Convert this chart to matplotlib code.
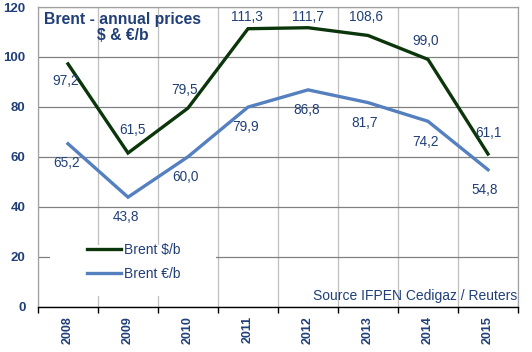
import matplotlib
matplotlib.use("Agg")
import matplotlib.pyplot as plt
from matplotlib.patches import Rectangle

years = ["2008", "2009", "2010", "2011", "2012", "2013", "2014", "2015"]
brent_usd = [97.2, 61.5, 79.5, 111.3, 111.7, 108.6, 99.0, 61.1]
brent_eur = [65.2, 43.8, 60.0, 79.9, 86.8, 81.7, 74.2, 54.8]
usd_labels = ["97,2", "61,5", "79,5", "111,3", "111,7", "108,6", "99,0", "61,1"]
eur_labels = ["65,2", "43,8", "60,0", "79,9", "86,8", "81,7", "74,2", "54,8"]

# label offsets in pixels (dx, dy)
usd_off = [(-2, -17), (4, 23), (-3, 18), (-1, 12), (0, 11), (-2, 18), (-2, 18), (0, 21)]
eur_off = [(-1, -19), (-2, -20), (-3, -20), (-2, -20), (-1, -20), (-3, -20), (-3, -21), (-3, -20)]

TXT = "#203F78"
plt.rcParams['font.family'] = ['Liberation Sans', 'DejaVu Sans']

fig = plt.figure(figsize=(5.32, 3.52), dpi=100)
ax = fig.add_axes([38/532, 1-306.5/352, 480/532, 299.5/352])

x = list(range(len(years)))
ax.plot(x, brent_usd, color="#0B360B", lw=2.4, label="Brent $/b", zorder=4, solid_joinstyle='miter')
ax.plot(x, brent_eur, color="#5580C0", lw=2.4, label="Brent €/b", zorder=4, solid_joinstyle='miter')

for xi, v, s, (dx, dy) in zip(x, brent_usd, usd_labels, usd_off):
    ax.annotate(s, (xi, v), xytext=(dx, dy), textcoords='offset pixels',
                ha='center', va='center', fontsize=9.8, color=TXT, zorder=6)
for xi, v, s, (dx, dy) in zip(x, brent_eur, eur_labels, eur_off):
    ax.annotate(s, (xi, v), xytext=(dx, dy), textcoords='offset pixels',
                ha='center', va='center', fontsize=9.8, color=TXT, zorder=6)

ax.set_xlim(-0.5, len(years) - 0.5)
ax.set_ylim(0, 120)
ax.set_yticks(range(0, 121, 20))
ax.set_xticks(x)
ax.set_xticklabels(years, rotation=90, fontweight='bold', fontsize=9, color=TXT)
ax.set_xticks([i - 0.5 for i in range(len(years) + 1)], minor=True)
for lab in ax.get_yticklabels():
    lab.set_fontweight('bold')
    lab.set_fontsize(9.5)
    lab.set_color(TXT)

ax.tick_params(axis='x', which='major', length=0, pad=7)
ax.tick_params(axis='x', which='minor', length=4, width=1, color='black', direction='out')
ax.tick_params(axis='y', length=0, pad=9)

ax.grid(axis='y', which='major', color='#808080', lw=0.9, zorder=1)
ax.grid(axis='x', which='minor', color='#BFBFBF', lw=0.9, zorder=1)
ax.set_axisbelow(True)
for s in ['top', 'right', 'left']:
    ax.spines[s].set_color('#A0A0A0')
    ax.spines[s].set_linewidth(0.9)
ax.spines['bottom'].set_color('black')
ax.spines['bottom'].set_linewidth(1.0)

ax.add_patch(Rectangle((0.025, 0.035), 0.346, 0.17, transform=ax.transAxes,
                       facecolor='white', edgecolor='none', zorder=2))
leg = ax.legend(loc='upper left', bbox_to_anchor=(49/480, (306.5-243)/299.5),
                frameon=False, fontsize=10, handlelength=2.45, handletextpad=0.2,
                labelspacing=0.7, borderpad=0, borderaxespad=0)
for t in leg.get_texts():
    t.set_color(TXT)
leg.set_zorder(5)

fig.text(123/532, 1-12/352, "Brent - annual prices\n$ & €/b", ha='center', va='top',
         multialignment='center', fontsize=11.3, fontweight='bold', color=TXT, linespacing=1.1)
fig.text(517/532, 1-300/352, "Source IFPEN Cedigaz / Reuters", ha='right', va='baseline',
         fontsize=10, color=TXT)

fig.savefig("out.png", dpi=100)
